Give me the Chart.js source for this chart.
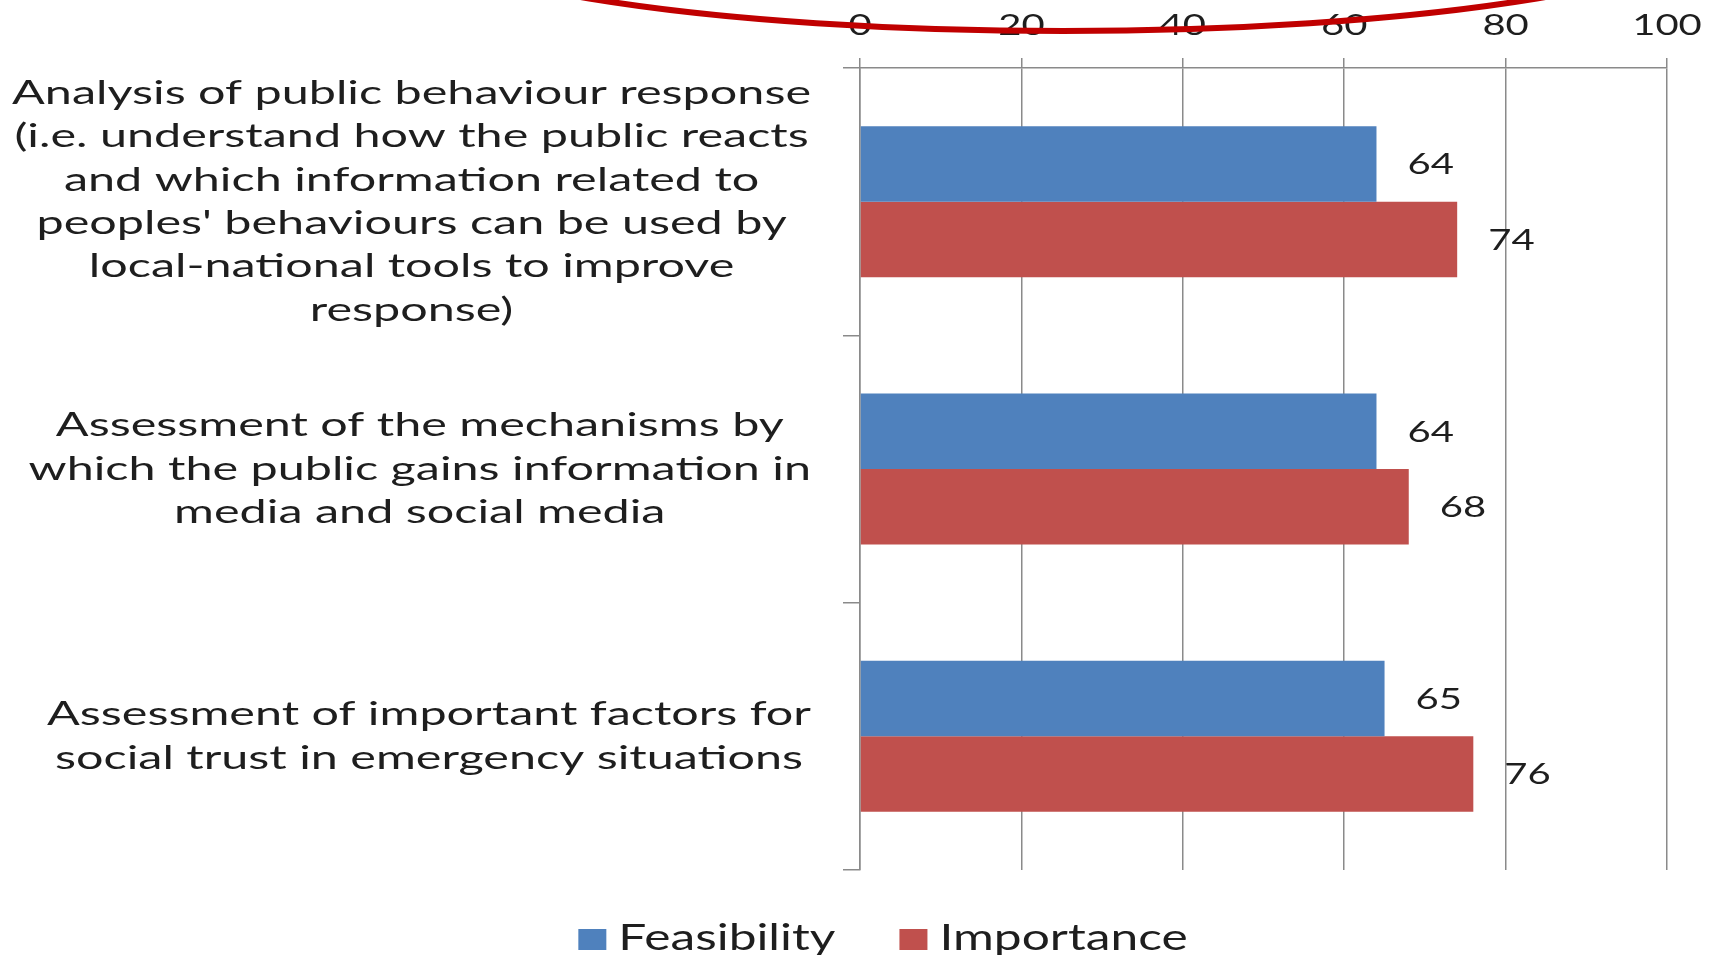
<!DOCTYPE html>
<html>
<head>
<meta charset="utf-8">
<title>Feasibility / Importance</title>
<script src="https://cdn.jsdelivr.net/npm/chart.js@4.4.1/dist/chart.umd.min.js"></script>
<style>
  html, body { margin: 0; padding: 0; background: #fff; }
  canvas { display: block; }
</style>
</head>
<body>
<canvas id="chart" width="1712" height="955"></canvas>
<script>
// Gráfico de barras horizontais (estilo Excel 2007), eixo de valores no topo.

const CATEGORIES = [
  ['Analysis of public behaviour response', '(i.e. understand how the public reacts',
    'and which information related to', "peoples' behaviours can be used by",
    'local-national tools to improve', 'response)'],
  ['Assessment of the mechanisms by', 'which the public gains information in',
    'media and social media'],
  ['Assessment of important factors for', 'social trust in emergency situations'],
];
const FEASIBILITY = [64, 64, 65];
const IMPORTANCE = [74, 68, 76];
const X_TICKS = [0, 20, 40, 60, 80, 100];

const BLUE = '#4f81bd';
const RED = '#c0504d';
const GRID_COLOR = '#8a8a8a';
const INK = '#1e1e1e';
const FONT = 'Lato, "Open Sans", sans-serif';
const STRETCH = 1.38; // o original está esticado na horizontal
const LABEL_STRETCH = 1.47;

function stretchText(ctx, text, x, y, align, sx = STRETCH) {
  ctx.save();
  ctx.translate(x, y);
  ctx.scale(sx, 1);
  ctx.textAlign = align;
  ctx.fillText(text, 0, 0);
  ctx.restore();
}

const excelText = {
  id: 'excelText',
  afterDraw(chart) {
    const { ctx, scales: { x, y } } = chart;
    ctx.save();
    ctx.fillStyle = INK;
    ctx.textBaseline = 'middle';

    // rótulos do eixo de valores
    ctx.font = `29px ${FONT}`;
    x.ticks.forEach((t, i) => stretchText(ctx, String(t.value), x.getPixelForTick(i), 26, 'center'));

    // rótulos das categorias: bloco alinhado à direita, linhas centradas
    ctx.font = `33px ${FONT}`;
    const lineH = 43.3;
    const blockRight = x.left - 49;
    chart.data.labels.forEach((lines, i) => {
      const maxW = Math.max(...lines.map((l) => ctx.measureText(l).width)) * LABEL_STRETCH;
      const cx = blockRight - maxW / 2;
      const cy = y.getPixelForTick(i);
      lines.forEach((l, k) => {
        stretchText(ctx, l, cx, cy + (k - (lines.length - 1) / 2) * lineH, 'center', LABEL_STRETCH);
      });
    });

    // valores ao lado das barras
    ctx.font = `29px ${FONT}`;
    chart.data.datasets.forEach((ds, di) => {
      chart.getDatasetMeta(di).data.forEach((bar, i) => {
        stretchText(ctx, String(ds.data[i]), bar.x + 31, bar.y + 1, 'left');
      });
    });

    // legenda
    ctx.font = `36px ${FONT}`;
    ctx.textBaseline = 'alphabetic';
    const items = chart.data.datasets.map((ds) => ({
      label: ds.label, color: ds.backgroundColor,
      w: 28 + 12 + ctx.measureText(ds.label).width * STRETCH,
    }));
    const gap = 64;
    const total = items.reduce((s, it) => s + it.w, 0) + gap * (items.length - 1);
    let lx = 883 - total / 2;
    items.forEach((it) => {
      ctx.fillStyle = it.color;
      ctx.fillRect(lx, 929, 28, 21);
      ctx.fillStyle = INK;
      stretchText(ctx, it.label, lx + 40, 950, 'left');
      lx += it.w + gap;
    });

    // arco vermelho por cima do topo
    ctx.strokeStyle = '#c00000';
    ctx.lineWidth = 6;
    ctx.beginPath();
    ctx.ellipse(1063, -80, 670, 111, 0, 0, Math.PI);
    ctx.stroke();
    ctx.restore();
  },
};

new Chart(document.getElementById('chart'), {
  type: 'bar',
  data: {
    labels: CATEGORIES,
    datasets: [
      { label: 'Feasibility', data: FEASIBILITY, backgroundColor: BLUE },
      { label: 'Importance', data: IMPORTANCE, backgroundColor: RED },
    ],
  },
  options: {
    indexAxis: 'y',
    responsive: false,
    animation: false,
    devicePixelRatio: 1,
    categoryPercentage: 0.565,
    barPercentage: 1.0,
    layout: { padding: { left: 0, top: 0, right: 45, bottom: 85 } },
    plugins: {
      legend: { display: false },
      tooltip: { enabled: false },
    },
    scales: {
      x: {
        position: 'top',
        min: 0,
        max: 100,
        afterBuildTicks: (scale) => { scale.ticks = X_TICKS.map((v) => ({ value: v })); },
        afterFit: (scale) => { scale.height = 68; },
        ticks: { display: false },
        grid: { color: GRID_COLOR, lineWidth: 1.5, tickLength: 10 },
        border: { color: GRID_COLOR, width: 1.5 },
      },
      y: {
        offset: true,
        afterFit: (scale) => { scale.width = 860; },
        ticks: { display: false },
        grid: { offset: true, drawOnChartArea: false, color: GRID_COLOR, lineWidth: 1.5, tickLength: 17 },
        border: { color: GRID_COLOR, width: 1.5 },
      },
    },
  },
  plugins: [excelText],
});
</script>
</body>
</html>
